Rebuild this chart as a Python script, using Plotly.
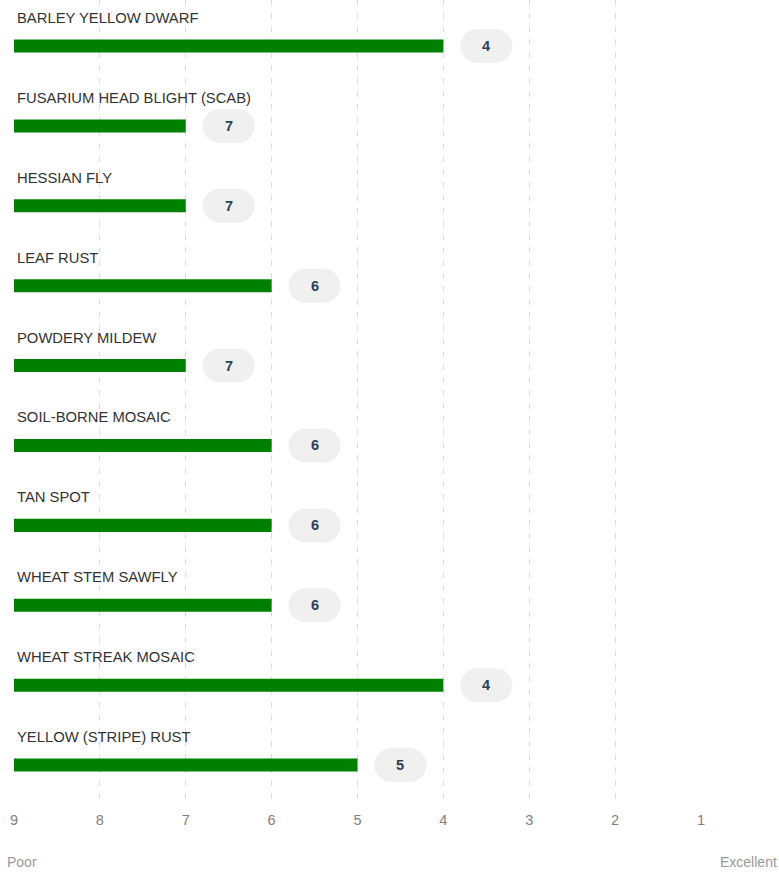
import plotly.graph_objects as go

categories = [
    "BARLEY YELLOW DWARF",
    "FUSARIUM HEAD BLIGHT (SCAB)",
    "HESSIAN FLY",
    "LEAF RUST",
    "POWDERY MILDEW",
    "SOIL-BORNE MOSAIC",
    "TAN SPOT",
    "WHEAT STEM SAWFLY",
    "WHEAT STREAK MOSAIC",
    "YELLOW (STRIPE) RUST",
]
scores = [4, 7, 7, 6, 7, 6, 6, 6, 4, 5]
tick_vals = [9, 8, 7, 6, 5, 4, 3, 2, 1]
scale_low = 9

W, H = 779, 874
ml, mr, mt, mb = 14, 78, 0, 69
FONT = "Liberation Sans, Arial, Helvetica, sans-serif"

ypos = list(range(len(categories)))

fig = go.Figure()
fig.add_trace(go.Bar(
    y=ypos,
    x=[s - scale_low for s in scores],
    base=[scale_low] * len(scores),
    orientation="h",
    marker=dict(color="#008000", line=dict(width=0)),
    width=0.163,
    hoverinfo="skip",
))

annotations = []
shapes = []
r = 17
k = 0.5523 * r
hw = 26
pill = (f"M {-hw + r},{-r} L {hw - r},{-r} "
        f"C {hw - r + k},{-r} {hw},{-k} {hw},0 "
        f"C {hw},{k} {hw - r + k},{r} {hw - r},{r} "
        f"L {-hw + r},{r} "
        f"C {-hw + r - k},{r} {-hw},{k} {-hw},0 "
        f"C {-hw},{-k} {-hw + r - k},{-r} {-hw + r},{-r} Z")

for i, (cat, s) in enumerate(zip(categories, scores)):
    annotations.append(dict(
        x=scale_low, y=i, xref="x", yref="y", text=cat, showarrow=False,
        xanchor="left", yanchor="middle", xshift=1, yshift=28,
        font=dict(family=FONT, size=14.8, color="#333333"),
    ))
    shapes.append(dict(
        type="path", xref="x", yref="y", xsizemode="pixel", ysizemode="pixel",
        xanchor=s - 0.5, yanchor=i, path=pill,
        fillcolor="#f0f0f0", line=dict(width=0), layer="above",
    ))
    annotations.append(dict(
        x=s - 0.5, y=i, xref="x", yref="y", text=f"<b>{s}</b>", showarrow=False,
        xanchor="center", yanchor="middle",
        font=dict(family=FONT, size=14.5, color="#2b4157"),
    ))

plot_h = H - mt - mb
plot_w = W - ml - mr
annotations.append(dict(
    x=(5 - ml) / plot_w, y=-(862 - plot_h) / plot_h, xref="paper", yref="paper",
    text="Poor", showarrow=False, xanchor="left", yanchor="middle",
    font=dict(family=FONT, size=14, color="#999999"),
))
annotations.append(dict(
    x=(W - ml) / plot_w, y=-(862 - plot_h) / plot_h, xref="paper", yref="paper",
    text="Excellent", showarrow=False, xanchor="right", yanchor="middle",
    font=dict(family=FONT, size=14, color="#999999"),
))

fig.update_layout(
    width=W, height=H,
    margin=dict(l=ml, r=mr, t=mt, b=mb),
    paper_bgcolor="white", plot_bgcolor="white",
    showlegend=False,
    xaxis=dict(
        range=[9, 1], tickvals=tick_vals, ticktext=[str(t) for t in tick_vals],
        showgrid=True, gridcolor="#dddddd", griddash="6px,7px", gridwidth=1,
        zeroline=False, showline=False, ticks="", ticklabelstandoff=4,
        tickfont=dict(family=FONT, size=14.5, color="#808080"),
        fixedrange=True,
    ),
    yaxis=dict(
        range=[9.5, -0.576], showgrid=False, zeroline=False, showline=False,
        showticklabels=False, ticks="", fixedrange=True,
    ),
    annotations=annotations,
    shapes=shapes,
)

fig.write_html(
    "out.html",
    config={"displayModeBar": False},
    post_script="document.body.style.margin='0';document.body.style.overflow='hidden';",
)
